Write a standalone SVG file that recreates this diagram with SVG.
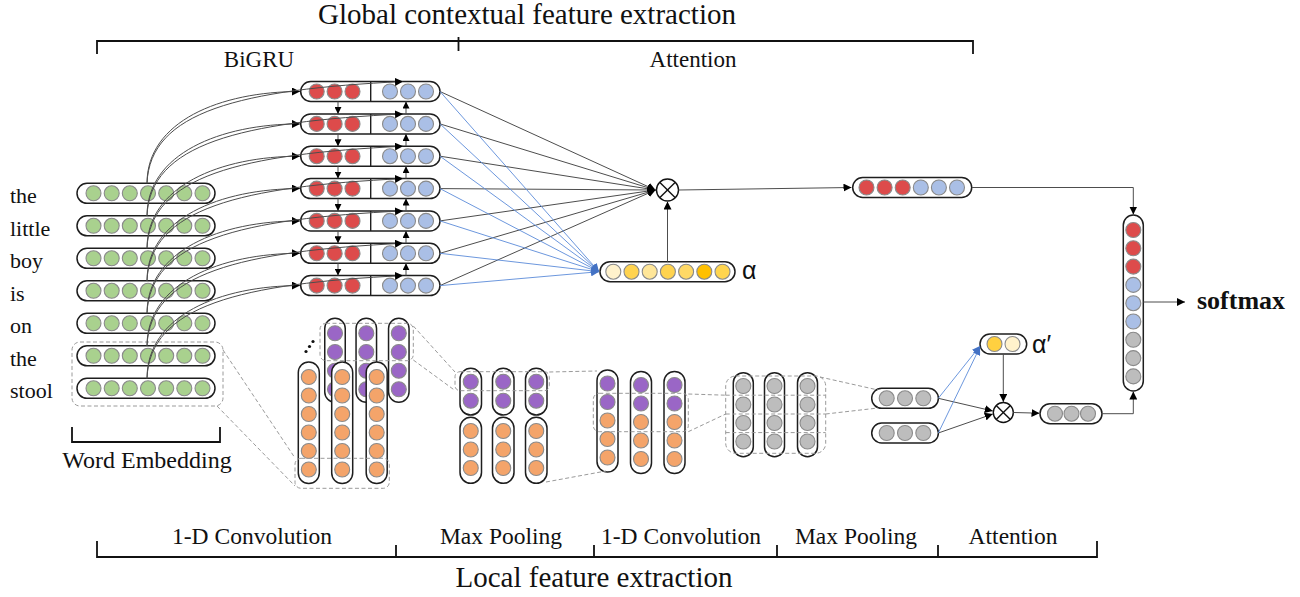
<svg xmlns="http://www.w3.org/2000/svg" xmlns:xlink="http://www.w3.org/1999/xlink" width="1300" height="597" viewBox="0 0 1300 597">
<style>
.cap{fill:#fff;stroke:#1e1e1e;stroke-width:1.5}
.c{stroke:#8a8a8a;stroke-width:1.1}
.gr{fill:#A9D18E}
.rd{fill:#DD4B4B}
.bl{fill:#AABFE6}
.pu{fill:#9A66C6}
.or{fill:#F4A46A}
.gy{fill:#BDBDBD}
.dash{fill:none;stroke:#9a9a9a;stroke-width:1;stroke-dasharray:4 2.5}
.ln{fill:none;stroke:#4d4d4d;stroke-width:1}
.bln{fill:none;stroke:#5B8BD9;stroke-width:0.9}
.br{fill:none;stroke:#111;stroke-width:1.8}
.t{font-family:"Liberation Serif","Times New Roman",serif;fill:#111}
.s{font-family:"Liberation Sans",Arial,sans-serif;fill:#111}
.ox{fill:#fff;stroke:#111;stroke-width:1.4}
.oxl{stroke:#111;stroke-width:1.4}
</style>
<defs>
<marker id="ah" viewBox="0 0 10 10" refX="10" refY="5" markerWidth="8" markerHeight="8" markerUnits="userSpaceOnUse" orient="auto"><path d="M0,0 L10,5 L0,10 z" fill="#000"/></marker>
<marker id="ahs" viewBox="0 0 10 10" refX="10" refY="5" markerWidth="7" markerHeight="7" markerUnits="userSpaceOnUse" orient="auto"><path d="M0,0 L10,5 L0,10 z" fill="#000"/></marker>
<marker id="ahb" viewBox="0 0 10 10" refX="10" refY="5" markerWidth="8" markerHeight="8" markerUnits="userSpaceOnUse" orient="auto"><path d="M0,0 L10,5 L0,10 z" fill="#4472C4"/></marker>
<g id="embRow">
<rect class="cap" x="77" y="-10" width="138" height="20" rx="10"/>
<circle class="c gr" cx="93.5" cy="0" r="7.5"/><circle class="c gr" cx="111.7" cy="0" r="7.5"/><circle class="c gr" cx="129.8" cy="0" r="7.5"/><circle class="c gr" cx="148" cy="0" r="7.5"/><circle class="c gr" cx="166.2" cy="0" r="7.5"/><circle class="c gr" cx="184.3" cy="0" r="7.5"/><circle class="c gr" cx="202.5" cy="0" r="7.5"/>
</g>
<g id="gruRow">
<rect class="cap" x="300.7" y="-10" width="139.3" height="20" rx="10"/>
<line x1="370.7" y1="-10" x2="370.7" y2="10" stroke="#1e1e1e" stroke-width="1.4"/>
<circle class="c rd" cx="316.7" cy="0" r="7.5"/><circle class="c rd" cx="334.6" cy="0" r="7.5"/><circle class="c rd" cx="352.5" cy="0" r="7.5"/>
<circle class="c bl" cx="390" cy="0" r="7.5"/><circle class="c bl" cx="408" cy="0" r="7.5"/><circle class="c bl" cx="426" cy="0" r="7.5"/>
</g>
</defs>
<rect width="1300" height="597" fill="#fff"/>

<g id="labels">
<text class="t" x="527" y="24" text-anchor="middle" font-size="29">Global contextual feature extraction</text>
<path class="br" d="M97,54 L97,41 L973,41 L973,54 M458.5,37 L458.5,51"/>
<text class="t" x="259" y="67" text-anchor="middle" font-size="23">BiGRU</text>
<text class="t" x="693" y="67" text-anchor="middle" font-size="23">Attention</text>
<text class="t" x="10" y="203" font-size="22">the</text>
<text class="t" x="10" y="235.5" font-size="22">little</text>
<text class="t" x="10" y="268" font-size="22">boy</text>
<text class="t" x="10" y="300.5" font-size="22">is</text>
<text class="t" x="10" y="333" font-size="22">on</text>
<text class="t" x="10" y="365.5" font-size="22">the</text>
<text class="t" x="10" y="398" font-size="22">stool</text>
<path class="br" d="M72,427 L72,442 L220,442 L220,427"/>
<text class="t" x="147" y="468" text-anchor="middle" font-size="24">Word Embedding</text>
<text class="t" x="252" y="544" text-anchor="middle" font-size="23.5">1-D Convolution</text>
<text class="t" x="501" y="544" text-anchor="middle" font-size="23.5">Max Pooling</text>
<text class="t" x="681" y="544" text-anchor="middle" font-size="23.5">1-D Convolution</text>
<text class="t" x="856" y="544" text-anchor="middle" font-size="23.5">Max Pooling</text>
<text class="t" x="1013" y="544" text-anchor="middle" font-size="23.5">Attention</text>
<path class="br" d="M97,541 L97,557 L1097,557 L1097,541 M396,545 L396,557 M594,545 L594,557 M777,545 L777,557 M938,545 L938,557"/>
<text class="t" x="594" y="587" text-anchor="middle" font-size="29">Local feature extraction</text>
</g>

<g id="embeddings">
<g id="emb-the"><use xlink:href="#embRow" y="193.3"/></g>
<g id="emb-little"><use xlink:href="#embRow" y="225.8"/></g>
<g id="emb-boy"><use xlink:href="#embRow" y="258.3"/></g>
<g id="emb-is"><use xlink:href="#embRow" y="290.8"/></g>
<g id="emb-on"><use xlink:href="#embRow" y="323.3"/></g>
<g id="emb-the2"><use xlink:href="#embRow" y="355.8"/></g>
<g id="emb-stool"><use xlink:href="#embRow" y="388.3"/></g>
<rect class="dash" x="72" y="342" width="151" height="64" rx="8"/>
</g>

<g id="bigru">
<g id="gru-1"><use xlink:href="#gruRow" y="91.5"/></g>
<g id="gru-2"><use xlink:href="#gruRow" y="123.9"/></g>
<g id="gru-3"><use xlink:href="#gruRow" y="156.2"/></g>
<g id="gru-4"><use xlink:href="#gruRow" y="188.6"/></g>
<g id="gru-5"><use xlink:href="#gruRow" y="220.9"/></g>
<g id="gru-6"><use xlink:href="#gruRow" y="253.3"/></g>
<g id="gru-7"><use xlink:href="#gruRow" y="285.6"/></g>
</g>

<g id="att-mult">
<circle class="ox" cx="667.5" cy="190" r="11"/>
<line class="oxl" x1="659.7" y1="182.2" x2="675.3" y2="197.8"/><line class="oxl" x1="675.3" y1="182.2" x2="659.7" y2="197.8"/>
</g>

<g id="alpha">
<rect class="cap" x="600" y="261.7" width="135" height="20" rx="10"/>
<circle class="c" fill="#FFF2CC" cx="613.3" cy="271.7" r="7.5"/>
<circle class="c" fill="#FFD34F" cx="631.5" cy="271.7" r="7.5"/>
<circle class="c" fill="#FFE699" cx="649.7" cy="271.7" r="7.5"/>
<circle class="c" fill="#FFD34F" cx="667.9" cy="271.7" r="7.5"/>
<circle class="c" fill="#FFD966" cx="686.1" cy="271.7" r="7.5"/>
<circle class="c" fill="#FFC000" cx="704.3" cy="271.7" r="7.5"/>
<circle class="c" fill="#FFD54F" cx="722.5" cy="271.7" r="7.5"/>
<text class="s" x="742" y="279" font-size="25">α</text>
</g>

<g id="global-vec">
<rect class="cap" x="852.7" y="177.5" width="119" height="20" rx="10"/>
<circle class="c rd" cx="866.5" cy="187.5" r="7.5"/><circle class="c rd" cx="884.6" cy="187.5" r="7.5"/><circle class="c rd" cx="902.7" cy="187.5" r="7.5"/>
<circle class="c bl" cx="920.8" cy="187.5" r="7.5"/><circle class="c bl" cx="938.9" cy="187.5" r="7.5"/><circle class="c bl" cx="957" cy="187.5" r="7.5"/>
</g>

<g id="concat">
<rect class="cap" x="1123.3" y="215" width="20" height="176" rx="10"/>
<circle class="c rd" cx="1133.3" cy="230" r="7.5"/><circle class="c rd" cx="1133.3" cy="248.3" r="7.5"/><circle class="c rd" cx="1133.3" cy="266.6" r="7.5"/>
<circle class="c bl" cx="1133.3" cy="284.9" r="7.5"/><circle class="c bl" cx="1133.3" cy="303.2" r="7.5"/><circle class="c bl" cx="1133.3" cy="321.5" r="7.5"/>
<circle class="c gy" cx="1133.3" cy="339.8" r="7.5"/><circle class="c gy" cx="1133.3" cy="358.1" r="7.5"/><circle class="c gy" cx="1133.3" cy="376.4" r="7.5"/>
</g>

<g id="softmax">
<text class="t" x="1197" y="309" font-size="26" font-weight="bold">softmax</text>
</g>

<g id="conv1">
<rect class="cap" x="324.75" y="318.3" width="20.5" height="84" rx="10.25"/>
<circle class="c pu" cx="335" cy="333.3" r="7.5"/><circle class="c pu" cx="335" cy="352" r="7.5"/><circle class="c pu" cx="335" cy="370.7" r="7.5"/><circle class="c pu" cx="335" cy="389.3" r="7.5"/>
<rect class="cap" x="356.05" y="318.3" width="20.5" height="84" rx="10.25"/>
<circle class="c pu" cx="366.3" cy="333.3" r="7.5"/><circle class="c pu" cx="366.3" cy="352" r="7.5"/><circle class="c pu" cx="366.3" cy="370.7" r="7.5"/><circle class="c pu" cx="366.3" cy="389.3" r="7.5"/>
<rect class="cap" x="388.55" y="318.3" width="20.5" height="84" rx="10.25"/>
<circle class="c pu" cx="398.8" cy="333.3" r="7.5"/><circle class="c pu" cx="398.8" cy="352" r="7.5"/><circle class="c pu" cx="398.8" cy="370.7" r="7.5"/><circle class="c pu" cx="398.8" cy="389.3" r="7.5"/>
<rect class="cap" x="298.3" y="362" width="21" height="121.5" rx="10.5"/>
<circle class="c or" cx="308.8" cy="377" r="7.5"/><circle class="c or" cx="308.8" cy="395.5" r="7.5"/><circle class="c or" cx="308.8" cy="414" r="7.5"/><circle class="c or" cx="308.8" cy="432.5" r="7.5"/><circle class="c or" cx="308.8" cy="451" r="7.5"/><circle class="c or" cx="308.8" cy="469.5" r="7.5"/>
<rect class="cap" x="331.7" y="362" width="21" height="121.5" rx="10.5"/>
<circle class="c or" cx="342.2" cy="377" r="7.5"/><circle class="c or" cx="342.2" cy="395.5" r="7.5"/><circle class="c or" cx="342.2" cy="414" r="7.5"/><circle class="c or" cx="342.2" cy="432.5" r="7.5"/><circle class="c or" cx="342.2" cy="451" r="7.5"/><circle class="c or" cx="342.2" cy="469.5" r="7.5"/>
<rect class="cap" x="366.2" y="362" width="21" height="121.5" rx="10.5"/>
<circle class="c or" cx="376.7" cy="377" r="7.5"/><circle class="c or" cx="376.7" cy="395.5" r="7.5"/><circle class="c or" cx="376.7" cy="414" r="7.5"/><circle class="c or" cx="376.7" cy="432.5" r="7.5"/><circle class="c or" cx="376.7" cy="451" r="7.5"/><circle class="c or" cx="376.7" cy="469.5" r="7.5"/>
<rect class="dash" x="320" y="323.3" width="93.3" height="37.4" rx="6"/>
<rect class="dash" x="295" y="458.3" width="94.3" height="30" rx="6"/>
<circle cx="306" cy="351.5" r="1.6" fill="#111"/><circle cx="309.5" cy="346.5" r="1.6" fill="#111"/><circle cx="313" cy="341.5" r="1.6" fill="#111"/>
</g>

<g id="pool1">
<rect class="cap" x="460" y="368.3" width="21.5" height="46.7" rx="10.75"/>
<rect class="cap" x="492.5" y="368.3" width="21.5" height="46.7" rx="10.75"/>
<rect class="cap" x="525.5" y="368.3" width="21.5" height="46.7" rx="10.75"/>
<circle class="c pu" cx="470.75" cy="381.7" r="7.5"/><circle class="c pu" cx="470.75" cy="400.7" r="7.5"/>
<circle class="c pu" cx="503.25" cy="381.7" r="7.5"/><circle class="c pu" cx="503.25" cy="400.7" r="7.5"/>
<circle class="c pu" cx="536.25" cy="381.7" r="7.5"/><circle class="c pu" cx="536.25" cy="400.7" r="7.5"/>
<rect class="cap" x="460" y="417.3" width="21.5" height="66" rx="10.75"/>
<rect class="cap" x="492.5" y="417.3" width="21.5" height="66" rx="10.75"/>
<rect class="cap" x="525.5" y="417.3" width="21.5" height="66" rx="10.75"/>
<circle class="c or" cx="470.75" cy="431" r="7.5"/><circle class="c or" cx="470.75" cy="449.5" r="7.5"/><circle class="c or" cx="470.75" cy="468" r="7.5"/>
<circle class="c or" cx="503.25" cy="431" r="7.5"/><circle class="c or" cx="503.25" cy="449.5" r="7.5"/><circle class="c or" cx="503.25" cy="468" r="7.5"/>
<circle class="c or" cx="536.25" cy="431" r="7.5"/><circle class="c or" cx="536.25" cy="449.5" r="7.5"/><circle class="c or" cx="536.25" cy="468" r="7.5"/>
<rect class="dash" x="455" y="371.7" width="94.3" height="19" rx="5"/>
</g>

<g id="conv2">
<rect class="cap" x="597" y="370" width="21" height="102" rx="10.5"/>
<circle class="c pu" cx="607.5" cy="383.5" r="7.5"/><circle class="c pu" cx="607.5" cy="402" r="7.5"/><circle class="c or" cx="607.5" cy="420.5" r="7.5"/><circle class="c or" cx="607.5" cy="439" r="7.5"/><circle class="c or" cx="607.5" cy="457.5" r="7.5"/>
<rect class="cap" x="630.5" y="371.5" width="21" height="102" rx="10.5"/>
<circle class="c pu" cx="641" cy="385" r="7.5"/><circle class="c pu" cx="641" cy="403.5" r="7.5"/><circle class="c or" cx="641" cy="422" r="7.5"/><circle class="c or" cx="641" cy="440.5" r="7.5"/><circle class="c or" cx="641" cy="459" r="7.5"/>
<rect class="cap" x="664" y="371.5" width="21" height="102" rx="10.5"/>
<circle class="c pu" cx="674.5" cy="385" r="7.5"/><circle class="c pu" cx="674.5" cy="403.5" r="7.5"/><circle class="c or" cx="674.5" cy="422" r="7.5"/><circle class="c or" cx="674.5" cy="440.5" r="7.5"/><circle class="c or" cx="674.5" cy="459" r="7.5"/>
<rect class="dash" x="593.3" y="393.3" width="95" height="38.4" rx="6"/>
</g>

<g id="pool2">
<rect class="cap" x="733.3" y="372.7" width="20" height="84" rx="10"/>
<rect class="cap" x="764.5" y="372.7" width="20" height="84" rx="10"/>
<rect class="cap" x="797.5" y="372.7" width="20" height="84" rx="10"/>
<circle class="c gy" cx="743.3" cy="386" r="7.5"/><circle class="c gy" cx="743.3" cy="404.5" r="7.5"/><circle class="c gy" cx="743.3" cy="423" r="7.5"/><circle class="c gy" cx="743.3" cy="441.5" r="7.5"/>
<circle class="c gy" cx="774.5" cy="386" r="7.5"/><circle class="c gy" cx="774.5" cy="404.5" r="7.5"/><circle class="c gy" cx="774.5" cy="423" r="7.5"/><circle class="c gy" cx="774.5" cy="441.5" r="7.5"/>
<circle class="c gy" cx="807.5" cy="386" r="7.5"/><circle class="c gy" cx="807.5" cy="404.5" r="7.5"/><circle class="c gy" cx="807.5" cy="423" r="7.5"/><circle class="c gy" cx="807.5" cy="441.5" r="7.5"/>
<rect class="dash" x="725.7" y="376" width="100" height="77.3" rx="10"/>
<path class="dash" d="M725.7,395.2 L825.7,395.2 M725.7,414 L825.7,414 M725.7,432.6 L825.7,432.6"/>
</g>

<g id="local-pair">
<rect class="cap" x="871.7" y="388.3" width="66.7" height="20" rx="10"/>
<circle class="c gy" cx="886.7" cy="398.3" r="7.5"/><circle class="c gy" cx="905" cy="398.3" r="7.5"/><circle class="c gy" cx="923.3" cy="398.3" r="7.5"/>
<rect class="cap" x="871.7" y="423" width="66.7" height="20" rx="10"/>
<circle class="c gy" cx="886.7" cy="433" r="7.5"/><circle class="c gy" cx="905" cy="433" r="7.5"/><circle class="c gy" cx="923.3" cy="433" r="7.5"/>
</g>

<g id="alpha2">
<rect class="cap" x="980" y="334" width="46.7" height="20" rx="10"/>
<circle class="c" fill="#FFD040" cx="994.5" cy="344" r="7.5"/>
<circle class="c" fill="#FFF2CC" cx="1012.5" cy="344" r="7.5"/>
<text class="s" x="1032" y="353" font-size="25">α′</text>
</g>

<g id="att-mult2">
<circle class="ox" cx="1003.3" cy="412.5" r="10"/>
<line class="oxl" x1="996.2" y1="405.4" x2="1010.4" y2="419.6"/><line class="oxl" x1="1010.4" y1="405.4" x2="996.2" y2="419.6"/>
</g>

<g id="local-vec">
<rect class="cap" x="1040" y="403.7" width="62" height="20" rx="10"/>
<circle class="c gy" cx="1055" cy="413.7" r="7.5"/><circle class="c gy" cx="1071.5" cy="413.7" r="7.5"/><circle class="c gy" cx="1088" cy="413.7" r="7.5"/>
</g>

<g id="connectors">
<g class="ln" marker-end="url(#ah)">
<path d="M147,183.3 C147,121.5 220,91.5 300,91.5"/>
<path d="M147,215.8 C147,153.9 220,123.9 300,123.9"/>
<path d="M147,248.3 C147,186.2 220,156.2 300,156.2"/>
<path d="M147,280.8 C147,218.6 220,188.6 300,188.6"/>
<path d="M147,313.3 C147,250.9 220,220.9 300,220.9"/>
<path d="M147,345.8 C147,283.3 220,253.3 300,253.3"/>
<path d="M147,378.3 C147,315.6 220,285.6 300,285.6"/>
<path d="M147,183.3 C150,111.5 240,89.5 403,81.5"/>
<path d="M147,215.8 C150,143.9 240,121.9 403,113.9"/>
<path d="M147,248.3 C150,176.2 240,154.2 403,146.2"/>
<path d="M147,280.8 C150,208.6 240,186.6 403,178.6"/>
<path d="M147,313.3 C150,240.9 240,218.9 403,210.9"/>
<path d="M147,345.8 C150,273.3 240,251.3 403,243.3"/>
<path d="M147,378.3 C150,305.6 240,283.6 403,275.6"/>
</g>
<g class="ln" stroke="#111" marker-end="url(#ahs)">
<path d="M338,101.5 L338,113.9"/><path d="M338,133.9 L338,146.2"/><path d="M338,166.2 L338,178.6"/><path d="M338,198.6 L338,210.9"/><path d="M338,230.9 L338,243.3"/><path d="M338,263.3 L338,275.6"/>
<path d="M406,113.9 L406,101.5"/><path d="M406,146.2 L406,133.9"/><path d="M406,178.6 L406,166.2"/><path d="M406,210.9 L406,198.6"/><path d="M406,243.3 L406,230.9"/><path d="M406,275.6 L406,263.3"/>
</g>
<g class="ln" marker-end="url(#ah)">
<path d="M440,91.5 L655.5,190"/>
<path d="M440,123.9 L655.5,190"/>
<path d="M440,156.2 L655.5,190"/>
<path d="M440,188.6 L655.5,190"/>
<path d="M440,220.9 L655.5,190"/>
<path d="M440,253.3 L655.5,190"/>
<path d="M440,285.6 L655.5,190"/>
</g>
<g class="bln" marker-end="url(#ahb)">
<path d="M440,91.5 L599,271.7"/>
<path d="M440,123.9 L599,271.7"/>
<path d="M440,156.2 L599,271.7"/>
<path d="M440,188.6 L599,271.7"/>
<path d="M440,220.9 L599,271.7"/>
<path d="M440,253.3 L599,271.7"/>
<path d="M440,285.6 L599,271.7"/>
</g>
<g class="ln" stroke="#777" marker-end="url(#ah)">
<path d="M667.5,261.7 L667.5,201.5"/>
<path d="M678.5,190 L851.5,187.5"/>
<path d="M1003.3,354 L1003.3,402"/>
<path d="M1013.3,412.5 L1039.5,413.2"/>
</g>
<g class="ln" stroke="#111" marker-end="url(#ah)">
<path d="M972,187.5 L1133.3,187.5 L1133.3,214.5"/>
<path d="M1102,413.7 L1133.3,413.7 L1133.3,391.5"/>
<path d="M1143.3,302 L1185,302"/>
<path d="M938.3,398.3 L992.8,411"/>
<path d="M938.3,433 L992.8,414"/>
</g>
<g class="bln" marker-end="url(#ahb)">
<path d="M938.3,398.3 L980,346"/>
<path d="M938.3,433 L980,347"/>
</g>
<g class="dash">
<path d="M223,350 L295,458"/>
<path d="M217,406 L295,486"/>
<path d="M413.3,326 L455,372"/>
<path d="M413.3,360 L455,390.5"/>
<path d="M549.3,372 L597,371"/>
<path d="M546,482 L606,471"/>
<path d="M688.3,394 L725.7,395.2"/>
<path d="M688.3,431.7 L725.7,414"/>
<path d="M820,377 L878,390"/>
<path d="M825.7,414 L878,408"/>
</g>
</g>
</svg>
